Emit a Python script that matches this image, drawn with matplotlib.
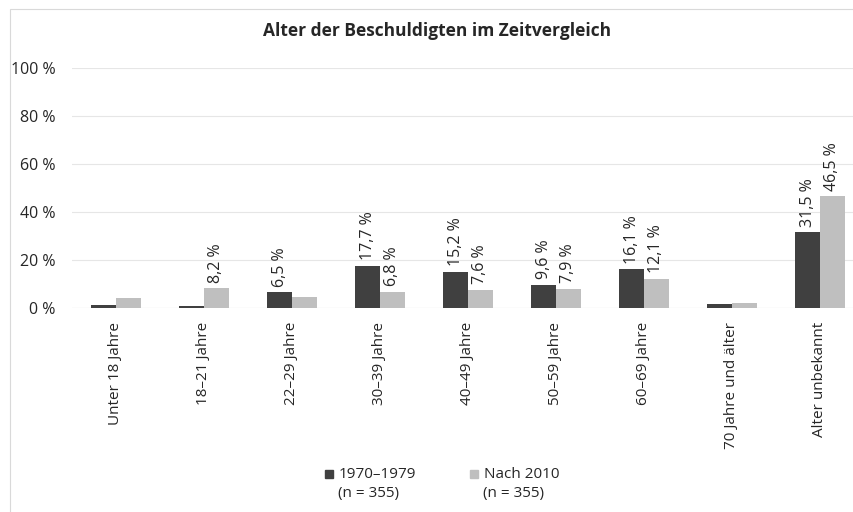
import matplotlib.pyplot as plt
from matplotlib.patches import Rectangle
import numpy as np

plt.rcParams['font.family'] = ['Open Sans', 'DejaVu Sans']

categories = ['Unter 18 Jahre', '18–21 Jahre', '22–29 Jahre', '30–39 Jahre',
              '40–49 Jahre', '50–59 Jahre', '60–69 Jahre', '70 Jahre und älter',
              'Alter unbekannt']
vals_1970 = [1.2, 0.8, 6.5, 17.7, 15.2, 9.6, 16.1, 1.5, 31.5]
vals_2010 = [4.2, 8.2, 4.6, 6.8, 7.6, 7.9, 12.1, 2.2, 46.5]
# which bars carry a value label
show_1970 = [False, False, True, True, True, True, True, False, True]
show_2010 = [False, True, False, True, True, True, True, False, True]
series_names = ['1970–1979\n(n = 355)', 'Nach 2010\n(n = 355)']

dark = '#404040'
light = '#bfbfbf'
W, H = 854, 512

fig = plt.figure(figsize=(8.54, 5.12), dpi=100)
# chart frame (runs off the right edge like the reference)
fig.patches.append(Rectangle((10 / W, -0.1), 1.2, 1 - 9 / H + 0.1,
                             transform=fig.transFigure, fill=False,
                             edgecolor='#d9d9d9', lw=0.8))

ax = fig.add_axes([72 / W, 1 - 308 / H, 792 / W, 240 / H])
x = np.arange(len(categories))
bw = 0.284
b1 = ax.bar(x - bw / 2, vals_1970, bw, color=dark, zorder=3)
b2 = ax.bar(x + bw / 2, vals_2010, bw, color=light, zorder=3)

def fmt(v):
    return ('%.1f' % v).replace('.', ',') + ' %'

for bars, vals, show in [(b1, vals_1970, show_1970), (b2, vals_2010, show_2010)]:
    for r, v, s in zip(bars, vals, show):
        if s:
            ax.annotate(fmt(v), (r.get_x() + r.get_width() / 2, v),
                        xytext=(0, 4), textcoords='offset points',
                        rotation=90, ha='center', va='bottom',
                        fontsize=11.5, color='#262626')

ax.set_xlim(-0.5, len(categories) - 0.5)
ax.set_ylim(0, 100)
ax.set_yticks(range(0, 101, 20))
ax.set_yticklabels(['%d %%' % t for t in range(0, 101, 20)])
ax.set_xticks(x)
ax.set_xticklabels(categories, rotation=90, va='top')
ax.tick_params(axis='y', length=0, pad=12, labelsize=11.5, labelcolor='#262626')
ax.tick_params(axis='x', length=0, pad=10, labelsize=11, labelcolor='#262626')
ax.grid(axis='y', color='#e6e6e6', lw=0.8, zorder=0)
for sp in ax.spines.values():
    sp.set_visible(False)
ax.axhline(0, color='#d9d9d9', lw=0.8, zorder=2)

fig.text(437 / W, 1 - 31 / H, 'Alter der Beschuldigten im Zeitvergleich',
         ha='center', va='center', fontsize=12.5, fontweight='bold',
         color='#262626')

# legend
for xs, col, name in [(325, dark, series_names[0]), (470, light, series_names[1])]:
    fig.patches.append(Rectangle((xs / W, 1 - 478 / H), 8 / W, 8 / H,
                                 transform=fig.transFigure, color=col))
    first, second = name.split('\n')
    fig.text((xs + 14) / W, 1 - 474 / H, first, ha='left', va='center',
             fontsize=11, color='#262626')
    fig.text((xs + 13) / W, 1 - 494 / H, second, ha='left', va='center',
             fontsize=11, color='#262626')

fig.savefig('out.png', dpi=100)
